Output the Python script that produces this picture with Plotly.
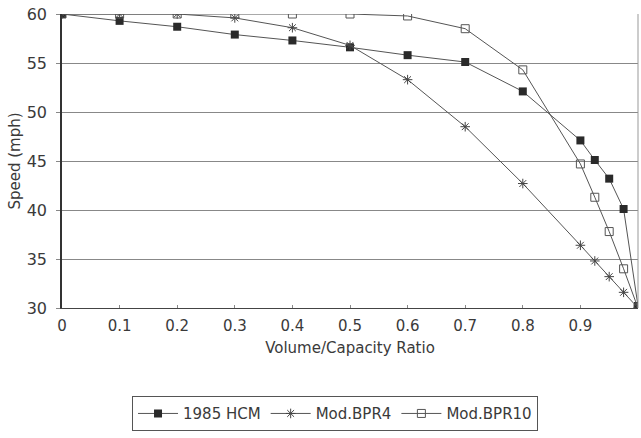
import plotly.graph_objects as go

vc = [0, 0.1, 0.2, 0.3, 0.4, 0.5, 0.6, 0.7, 0.8, 0.9, 0.925, 0.95, 0.975, 1.0]
hcm_1985 = [60, 59.3, 58.7, 57.9, 57.3, 56.6, 55.8, 55.1, 52.1, 47.1, 45.1, 43.2, 40.1, 30.2]
mod_bpr4 = [60, 60, 60, 59.6, 58.6, 56.8, 53.3, 48.5, 42.7, 36.4, 34.8, 33.2, 31.6, 30.0]
mod_bpr10 = [60, 60, 60, 60, 60, 60, 59.8, 58.5, 54.3, 44.7, 41.3, 37.8, 34.0, 30.0]
x_ticks = [0, 0.1, 0.2, 0.3, 0.4, 0.5, 0.6, 0.7, 0.8, 0.9, 1.0]
x_tick_labels = ["0", "0.1", "0.2", "0.3", "0.4", "0.5", "0.6", "0.7", "0.8", "0.9", "1"]
y_ticks = [30, 35, 40, 45, 50, 55, 60]

font = "DejaVu Sans"
line_col = "#555555"
text_col = "#3a3a3a"

fig = go.Figure()
fig.add_trace(go.Scatter(
    x=vc, y=hcm_1985, name="1985 HCM", mode="lines+markers",
    line=dict(color=line_col, width=1),
    marker=dict(symbol="square", size=8, color="#2a2a2a", line=dict(width=0)),
))
fig.add_trace(go.Scatter(
    x=vc, y=mod_bpr4, name="Mod.BPR4", mode="lines+markers",
    line=dict(color=line_col, width=1),
    marker=dict(symbol="asterisk-open", size=8, color="#444444", line=dict(width=1, color="#444444")),
))
fig.add_trace(go.Scatter(
    x=vc, y=mod_bpr10, name="Mod.BPR10", mode="lines+markers",
    line=dict(color=line_col, width=1),
    marker=dict(symbol="square-open", size=8, color="#555555", line=dict(width=1, color="#555555")),
))

fig.update_layout(
    width=641, height=438,
    margin=dict(l=62, r=3, t=14, b=130),
    paper_bgcolor="white", plot_bgcolor="white",
    font=dict(family=font, size=15, color=text_col),
    showlegend=True,
    legend=dict(
        orientation="h", x=0.474, xanchor="center", y=-0.30, yanchor="top",
        bordercolor="#555555", borderwidth=1, bgcolor="white",
        font=dict(family=font, size=15, color=text_col),
        itemwidth=40, tracegroupgap=0,
    ),
)
fig.update_xaxes(
    range=[0, 1], tickvals=x_ticks, ticktext=x_tick_labels,
    showgrid=False, zeroline=False,
    showline=True, linecolor="#444444", linewidth=1, mirror=False,
    ticks="inside", ticklen=3, tickcolor="#888888", ticklabelstandoff=4,
    title=dict(text="Volume/Capacity Ratio", standoff=8, font=dict(size=15)),
    tickfont=dict(size=15),
)
fig.update_yaxes(
    range=[30, 60], tickvals=y_ticks,
    showgrid=True, gridcolor="#888888", gridwidth=1, zeroline=False,
    showline=True, linecolor="#333333", linewidth=1.5,
    ticks="outside", ticklen=4, tickcolor="#888888", ticklabelstandoff=6,
    title=dict(text="Speed (mph)", standoff=2, font=dict(size=15)),
    tickfont=dict(size=16),
)
# right frame line
fig.add_shape(type="line", xref="paper", yref="paper", x0=1, x1=1, y0=0, y1=1,
              line=dict(color="#999999", width=1))

fig.write_html("out.html")
